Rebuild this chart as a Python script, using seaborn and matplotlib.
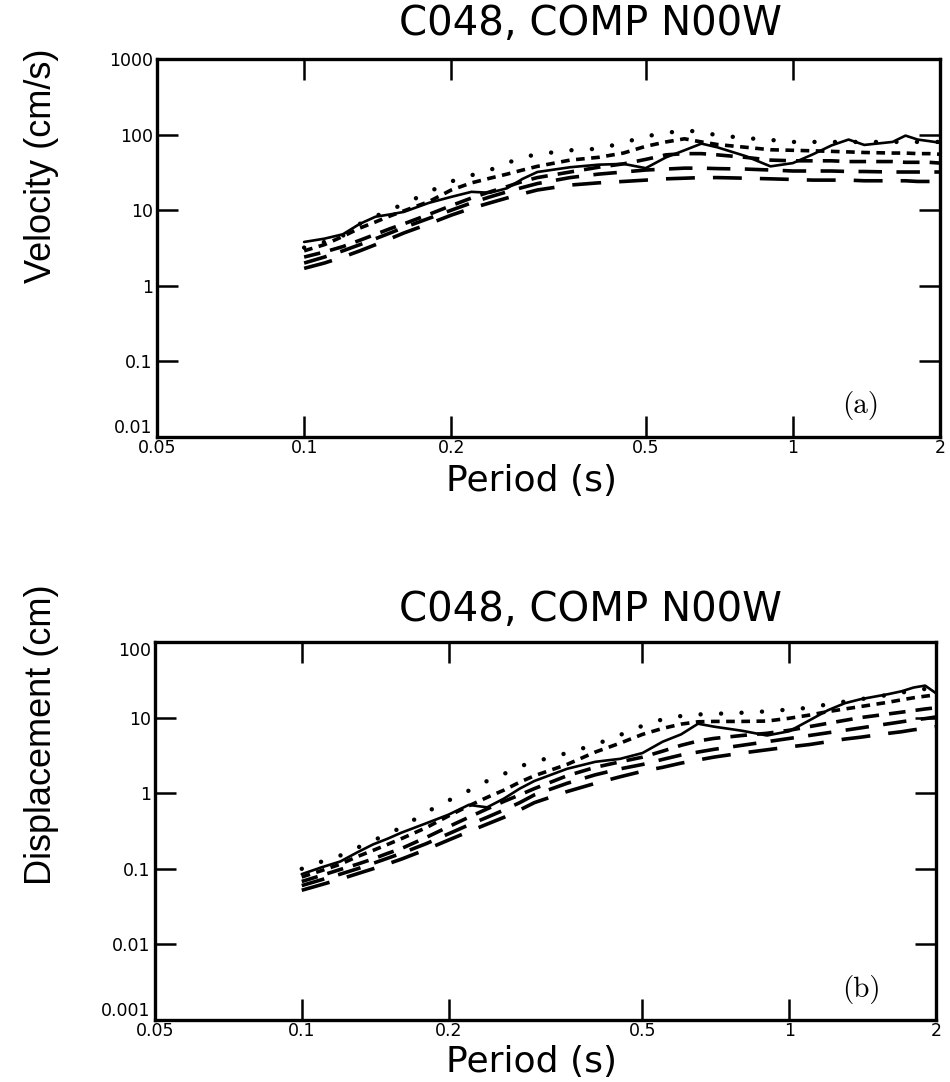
import matplotlib
matplotlib.use("Agg")
import matplotlib.pyplot as plt
import seaborn as sns
from matplotlib.ticker import NullLocator

# ---------------- data ----------------
periods = [0.1, 0.11, 0.12, 0.13, 0.14, 0.15, 0.16, 0.18, 0.2, 0.22, 0.24, 0.26,
           0.28, 0.3, 0.35, 0.4, 0.45, 0.5, 0.55, 0.6, 0.65, 0.7, 0.8, 0.9,
           1.0, 1.1, 1.2, 1.3, 1.4, 1.6, 1.7, 1.8, 1.9, 2.0]

# (a) velocity spectra, cm/s
vel_solid = [3.8, 4.2, 4.8, 6.6, 8.2, 8.8, 9.5, 12.5, 15, 17.5, 17, 19.5,
             26, 32, 37, 40, 41, 36, 50, 62, 76, 68, 52, 38,
             42, 55, 72, 86, 73, 80, 97, 86, 82, 78]
vel_dotted = [3.2, 3.8, 4.6, 6.6, 8.3, 10.2, 12, 17.5, 24, 29, 34, 42,
              50, 55, 62, 65, 78, 95, 105, 114, 108, 98, 90, 85,
              80, 80, 80, 80, 80, 80, 80, 80, 80, 80]
vel_short = [2.9, 3.5, 4.5, 5.8, 7.0, 8.4, 9.8, 13, 18.5, 23, 26.5, 30,
             34, 38, 46, 50, 57, 70, 80, 88, 80, 74, 68, 63,
             62, 61, 60, 59, 58, 57, 57, 56, 56, 55]
vel_medium = [2.4, 2.8, 3.3, 4.0, 4.8, 5.7, 6.6, 8.8, 11.5, 14.5, 17.5, 20.5,
              24, 27, 32, 37, 41, 47, 54, 56, 56, 54, 50, 46,
              45, 45, 45, 44, 44, 44, 43, 43, 43, 42]
vel_long_a = [2.0, 2.4, 2.9, 3.5, 4.2, 5.0, 5.9, 7.8, 10, 12.5, 15, 17.5,
              20, 22.5, 27, 30, 32, 34, 35, 36, 36, 35.5, 35, 34,
              33, 33, 33, 32.5, 32.5, 32, 32, 32, 32, 32]
vel_long_b = [1.7, 2.0, 2.4, 2.9, 3.5, 4.2, 5.0, 6.6, 8.6, 10.6, 12.5, 14.5,
              16.5, 18.5, 21.5, 23, 24, 25, 26, 26.5, 27, 27, 26.5, 26,
              25.5, 25, 25, 25, 24.5, 24.5, 24.5, 24, 24, 24]

# (b) displacement spectra, cm
dis_solid = [0.085, 0.105, 0.125, 0.165, 0.21, 0.25, 0.3, 0.4, 0.52, 0.7, 0.65, 0.85,
             1.15, 1.45, 2.1, 2.6, 2.85, 3.4, 4.8, 6.0, 8.3, 7.6, 6.7, 5.8,
             6.6, 9.2, 12.5, 15.5, 17.5, 20.5, 22.3, 25, 26.5, 21]
dis_dotted = [0.1, 0.125, 0.15, 0.19, 0.235, 0.29, 0.35, 0.56, 0.8, 1.08, 1.45, 1.8,
              2.26, 2.6, 3.4, 4.4, 5.9, 7.8, 9.5, 10.5, 11, 11.2, 11.6, 12.1,
              12.8, 13.5, 15, 16.3, 17.5, 20, 21.5, 22.5, 24, 25]
dis_short = [0.078, 0.095, 0.115, 0.145, 0.175, 0.21, 0.25, 0.35, 0.5, 0.68, 0.88, 1.1,
             1.4, 1.7, 2.4, 3.5, 4.6, 6.0, 7.2, 8.2, 8.8, 8.9, 8.9, 9.0,
             9.8, 10.8, 12, 13, 14, 16, 17.2, 18.3, 19.2, 20]
dis_medium = [0.068, 0.082, 0.098, 0.115, 0.135, 0.16, 0.185, 0.26, 0.36, 0.48, 0.62, 0.78,
              0.95, 1.15, 1.7, 2.2, 2.6, 3.0, 3.6, 4.3, 4.9, 5.3, 5.8, 6.2,
              6.8, 7.6, 8.4, 9.2, 10, 11.2, 11.8, 12.4, 13, 13.5]
dis_long_a = [0.06, 0.072, 0.085, 0.1, 0.118, 0.138, 0.16, 0.215, 0.29, 0.38, 0.48, 0.6,
              0.75, 0.95, 1.35, 1.75, 2.1, 2.4, 2.8, 3.2, 3.5, 3.8, 4.3, 4.8,
              5.3, 5.8, 6.3, 6.8, 7.3, 8.3, 8.8, 9.3, 9.7, 10.2]
dis_long_b = [0.052, 0.062, 0.073, 0.086, 0.1, 0.116, 0.134, 0.18, 0.24, 0.31, 0.39, 0.48,
              0.6, 0.75, 1.05, 1.35, 1.65, 1.95, 2.2, 2.5, 2.75, 3.0, 3.4, 3.75,
              4.1, 4.4, 4.8, 5.2, 5.5, 6.2, 6.5, 6.9, 7.2, 7.6]

x_ticks = [0.05, 0.1, 0.2, 0.5, 1, 2]
x_ticklabels = ["0.05", "0.1", "0.2", "0.5", "1", "2"]
vel_ticks = [0.01, 0.1, 1, 10, 100, 1000]
vel_ticklabels = ["0.01", "0.1", "1", "10", "100", "1000"]
dis_ticks = [0.001, 0.01, 0.1, 1, 10, 100]
dis_ticklabels = ["0.001", "0.01", "0.1", "1", "10", "100"]

title_text = "C048, COMP N00W"

# ---------------- styling ----------------
sns.set_theme(style="ticks", rc={
    "axes.edgecolor": "black", "text.color": "black", "axes.labelcolor": "black",
    "xtick.color": "black", "ytick.color": "black", "axes.linewidth": 2.2,
})
plt.rcParams["font.family"] = ["DejaVu Sans"]

line_styles = [
    dict(linestyle="-", linewidth=1.9),
    dict(linestyle=(0, (0.01, 4.6)), linewidth=3.2, dash_capstyle="round"),
    dict(linestyle=(0, (2.4, 1.8)), linewidth=2.6),
    dict(linestyle=(0, (4.6, 2.8)), linewidth=2.6),
    dict(linestyle=(0, (6.5, 4.0)), linewidth=2.6),
    dict(linestyle=(0, (8.0, 5.0)), linewidth=2.6),
]

W, H = 950, 1082
fig = plt.figure(figsize=(W / 100, H / 100), dpi=100)


def rect(l, t, r, b):
    return [l / W, 1 - b / H, (r - l) / W, (b - t) / H]


ax1 = fig.add_axes(rect(157, 59, 940, 437))
ax2 = fig.add_axes(rect(155, 642, 936, 1020))


def draw_panel(ax, series, yticks, yticklabels, ylim):
    ax.set_xscale("log")
    ax.set_yscale("log")
    for vals, st in zip(series, line_styles):
        sns.lineplot(x=periods, y=vals, ax=ax, color="black", estimator=None,
                     sort=False, **st)
    ax.set_xlim(0.05, 2)
    ax.set_ylim(*ylim)
    ax.set_xticks(x_ticks, labels=x_ticklabels)
    ax.set_yticks(yticks, labels=yticklabels)
    ax.xaxis.set_minor_locator(NullLocator())
    ax.yaxis.set_minor_locator(NullLocator())
    ax.tick_params(axis="both", which="major", direction="in", length=15,
                   width=1.8, top=True, right=True, labelsize=12.5)
    ax.tick_params(axis="x", pad=1.5)
    ax.tick_params(axis="y", pad=3)
    ax.set_xlabel("")
    ax.set_ylabel("")
    for sp in ax.spines.values():
        sp.set_linewidth(2.4)
    labs = ax.get_yticklabels()
    labs[0].set_va("bottom")


draw_panel(ax1, [vel_solid, vel_dotted, vel_short, vel_medium, vel_long_a, vel_long_b],
           vel_ticks, vel_ticklabels, (0.01, 1000))
draw_panel(ax2, [dis_solid, dis_dotted, dis_short, dis_medium, dis_long_a, dis_long_b],
           dis_ticks, dis_ticklabels, (0.001, 100))
ax2.get_yticklabels()[-1].set_va("top")

fig.text(590 / W, 1 - 24 / H, title_text, ha="center", va="center", fontsize=29)
fig.text(590 / W, 1 - 610 / H, title_text, ha="center", va="center", fontsize=29)
fig.text(532 / W, 1 - 481 / H, "Period (s)", ha="center", va="center", fontsize=26)
fig.text(532 / W, 1 - 1062 / H, "Period (s)", ha="center", va="center", fontsize=26)
fig.text(42 / W, 1 - 166 / H, "Velocity (cm/s)", ha="center", va="center",
         rotation=90, fontsize=26, family="Liberation Sans")
fig.text(42 / W, 1 - 735 / H, "Displacement (cm)", ha="center", va="center",
         rotation=90, fontsize=26, family="Liberation Sans")
fig.text(861 / W, 1 - 405 / H, "(a)", ha="center", va="center", fontsize=21,
         family="cmr10")
fig.text(861 / W, 1 - 990 / H, "(b)", ha="center", va="center", fontsize=21,
         family="cmr10")

fig.savefig("out.png", dpi=100, facecolor="white")
